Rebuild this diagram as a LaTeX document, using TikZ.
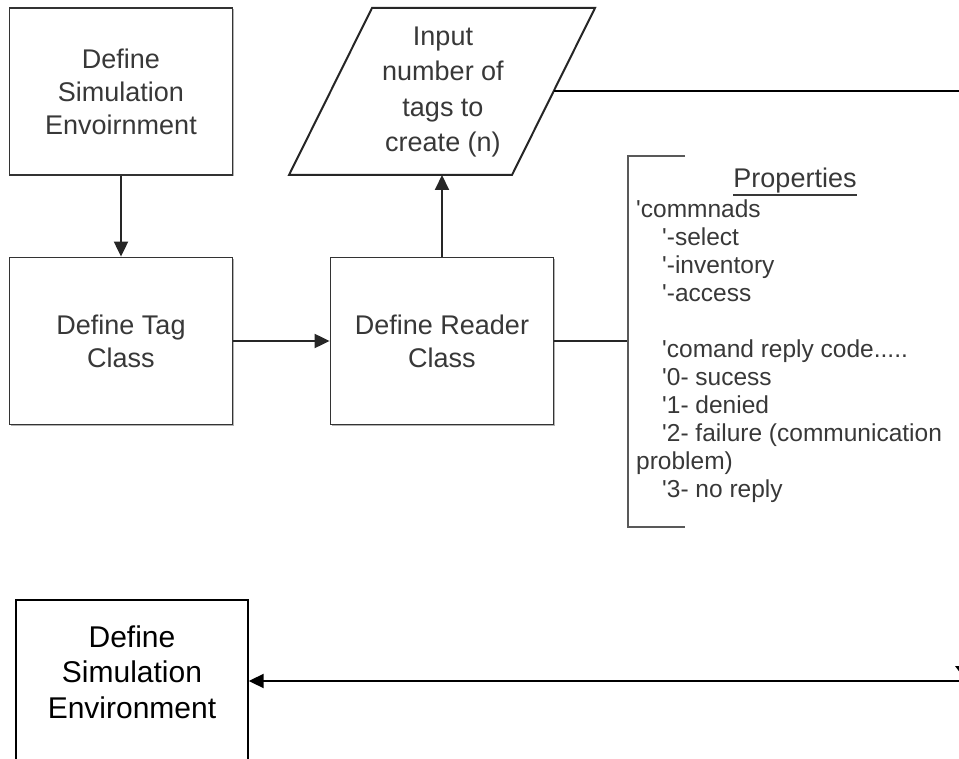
\documentclass[tikz,border=0pt]{standalone}
\usepackage{fontspec}
\newfontfamily\arialfont{Liberation Sans}
\usetikzlibrary{arrows.meta,shadows}
\begin{document}
\begin{tikzpicture}[x=1pt,y=-1pt,
  box/.style={draw=black!80, line width=1.8pt, fill=white,
    minimum width=223pt, minimum height=167pt, inner sep=0pt,
    align=center, text=black!78,
    font=\arialfont\fontsize{27}{33}\selectfont,
    drop shadow={shadow xshift=1.5pt, shadow yshift=-1.5pt, fill=black!30, opacity=1}},
  conn/.style={draw=black!85, line width=2pt},
  tip/.style={-{Triangle[length=15pt,width=14pt]}},
  bracket/.style={draw=black!65, line width=2pt},
  listtxt/.style={font=\arialfont\fontsize{24.5}{28}\selectfont,
    align=left, inner sep=0pt, text=black!78},
]
\useasboundingbox (0,0) rectangle (959,759);
\clip (0,0) rectangle (959,759);

% process boxes
\node[box] (sim) at (121,91.5) {Define\\Simulation\\Envoirnment};
\node[box] (tag) at (121,341) {Define Tag\\Class};
\node[box] (reader) at (442,341) {Define Reader\\Class};

% input parallelogram
\draw[conn, fill=white] (372,8) -- (595,8) -- (512,175) -- (289,175) -- cycle;
\node[align=center, inner sep=0pt, text=black!78,
  font=\arialfont\fontsize{27}{35.5}\selectfont] (inp) at (443,92)
  {Input\\number of\\tags to\\create (n)};
\coordinate (inpb) at (442,175);
\coordinate (inpr) at (553.7,91);
\coordinate (east1) at (962,91);

% flow connectors
\draw[conn, tip] (sim) -- (tag);
\draw[conn, tip] (tag) -- (reader);
\draw[conn, tip] (reader) -- (inpb);
\draw[line width=2pt, black] (inpr) -- (east1);

% properties annotation
\coordinate (brtop) at (685,156);
\coordinate (brmid) at (628,341);
\coordinate (brbot) at (628,527);
\coordinate (brend) at (685,527);
\draw[conn] (reader) -- (brmid);
\draw[bracket] (brtop) -| (brbot) -- (brend);

\node[inner sep=0pt, text=black!78, anchor=base,
  font=\arialfont\fontsize{27}{32}\selectfont] (props) at (795,188) {Properties};
\draw[black!78, line width=1.6pt] ([yshift=-1pt]props.south west) -- ([yshift=-1pt]props.south east);

\node[listtxt, anchor=north west] (plist) at (636,200) {%
'commnads\\
\hspace*{26pt}'-select\\
\hspace*{26pt}'-inventory\\
\hspace*{26pt}'-access\\[28pt]
\hspace*{26pt}'comand reply code.....\\
\hspace*{26pt}'0- sucess\\
\hspace*{26pt}'1- denied\\
\hspace*{26pt}'2- failure (communication\\
problem)\\
\hspace*{26pt}'3- no reply};

% second stage
\node[draw=black, line width=1.4pt, minimum width=232pt, minimum height=162pt,
  inner sep=0pt] (envbox) at (132,681) {};
\node[align=center, inner sep=0pt, text=black,
  font=\arialfont\fontsize{30}{35.5}\selectfont] (envtxt) at (132,672)
  {Define\\Simulation\\Environment};
\coordinate (east2) at (962,681);
\draw[line width=2pt, black, tip] (east2) -- (envbox);
\fill[black] (955,666) -- (967,666) -- (961,674) -- cycle;
\end{tikzpicture}
\end{document}
